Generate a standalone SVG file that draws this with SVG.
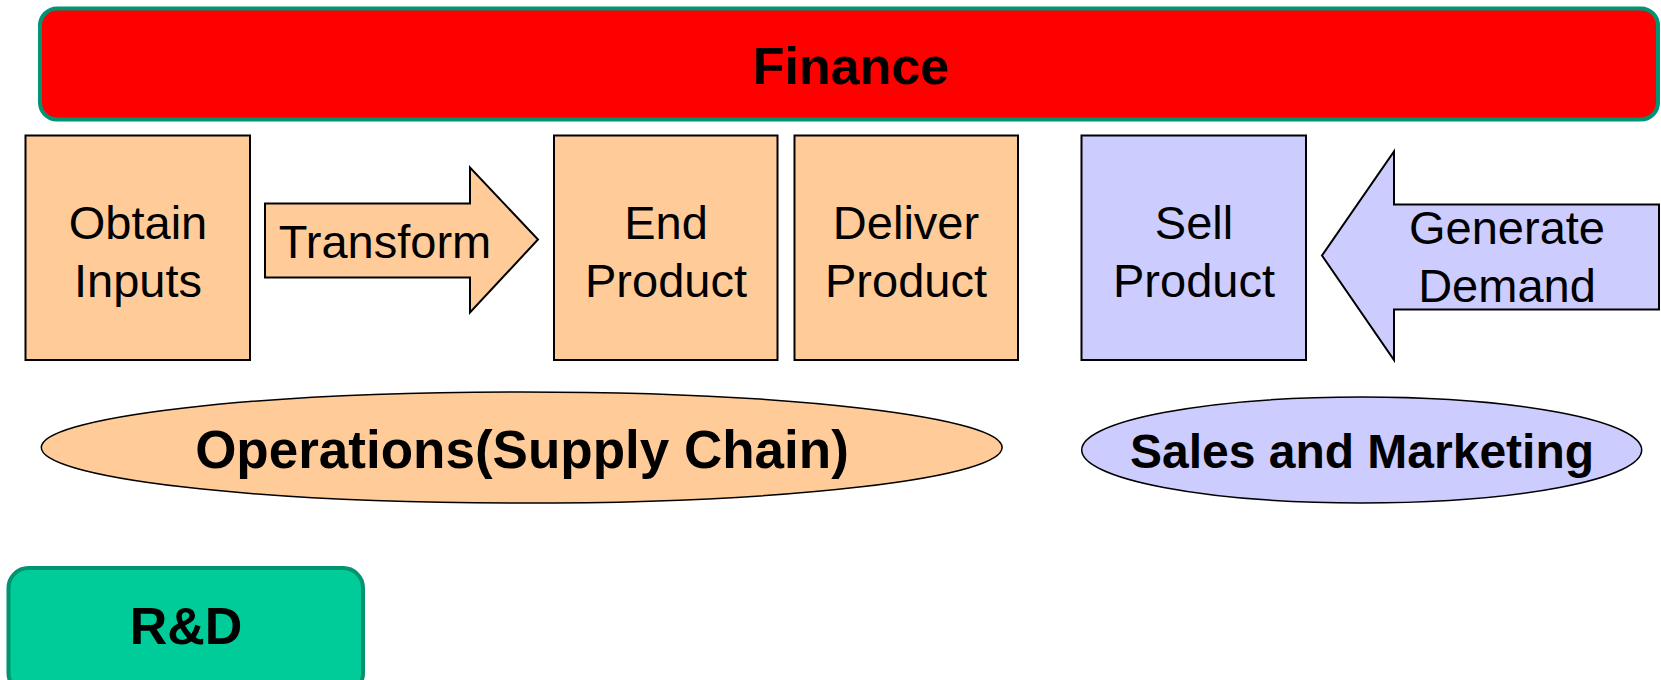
<svg xmlns="http://www.w3.org/2000/svg" width="1661" height="680" viewBox="0 0 1661 680">
<style>
  .box{stroke:#000;stroke-width:2}
  .ops{fill:#FFCC99}
  .sales{fill:#CCCCFF}
  .band{stroke:#009473;stroke-width:4}
  .t{font-family:"Liberation Sans",Arial,sans-serif;font-size:47px;fill:#000;text-anchor:middle}
  .b{font-family:"Liberation Sans",Arial,sans-serif;font-weight:bold;fill:#000;text-anchor:middle}
</style>
<rect width="1661" height="680" fill="#fff"/>
<g id="finance">
  <rect class="band" x="40" y="8.5" width="1618" height="111" rx="17" fill="#FF0000"/>
  <text class="b" x="851" y="84" font-size="52">Finance</text>
</g>
<g id="obtain-inputs">
  <rect class="box ops" x="25.5" y="135.5" width="224.5" height="224.5"/>
  <text class="t" x="138" y="239">Obtain</text>
  <text class="t" x="138" y="297">Inputs</text>
</g>
<g id="transform">
  <polygon class="box ops" points="265,203.5 470,203.5 470,167.5 538,239.5 470,312.5 470,277.5 265,277.5"/>
  <text class="t" x="385" y="258">Transform</text>
</g>
<g id="end-product">
  <rect class="box ops" x="554" y="135.5" width="223.5" height="224.5"/>
  <text class="t" x="666" y="239">End</text>
  <text class="t" x="666" y="297">Product</text>
</g>
<g id="deliver-product">
  <rect class="box ops" x="794.5" y="135.5" width="223.5" height="224.5"/>
  <text class="t" x="906" y="239">Deliver</text>
  <text class="t" x="906" y="297">Product</text>
</g>
<g id="sell-product">
  <rect class="box sales" x="1081.5" y="135.5" width="224.5" height="224.5"/>
  <text class="t" x="1194" y="239">Sell</text>
  <text class="t" x="1194" y="297">Product</text>
</g>
<g id="generate-demand">
  <polygon class="box sales" points="1659,204.5 1394,204.5 1394,151.5 1322,255.5 1394,360 1394,309.5 1659,309.5"/>
  <text class="t" x="1507" y="244">Generate</text>
  <text class="t" x="1507" y="302">Demand</text>
</g>
<g id="operations">
  <ellipse class="ops" cx="521.7" cy="447.5" rx="480.4" ry="55.6" stroke="#000" stroke-width="1.5"/>
  <text class="b" x="522" y="468" font-size="53">Operations(Supply Chain)</text>
</g>
<g id="sales-marketing">
  <ellipse class="sales" cx="1361.7" cy="450" rx="280" ry="53" stroke="#000" stroke-width="1.5"/>
  <text class="b" x="1362" y="468" font-size="48">Sales and Marketing</text>
</g>
<g id="rnd">
  <rect x="8.5" y="568" width="354.5" height="125" rx="20" fill="#00CC99" class="band"/>
  <text class="b" x="186" y="644" font-size="52">R&amp;D</text>
</g>
<g id="connectors"></g>
</svg>
